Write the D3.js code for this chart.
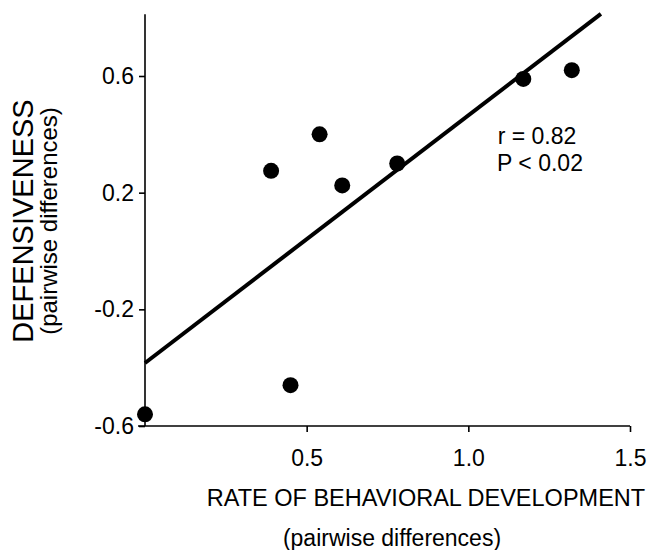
<!DOCTYPE html>
<html>
<head>
<meta charset="utf-8">
<script src="https://cdn.jsdelivr.net/npm/d3@7"></script>
<style>
  body { margin: 0; background: #fff; }
  svg text { font-family: "Liberation Sans", Arial, Helvetica, sans-serif; fill: #000; }
</style>
</head>
<body>
<svg id="chart" width="654" height="550"></svg>
<script>
// data
var rateDiff = [0.0, 0.45, 0.39, 0.54, 0.61, 0.78, 1.17, 1.32];
var defDiff = [-0.56, -0.46, 0.275, 0.40, 0.225, 0.30, 0.59, 0.62];
var xTicks = [0.5, 1.0, 1.5];
var xTickLabels = ["0.5", "1.0", "1.5"];
var yTicks = [-0.6, -0.2, 0.2, 0.6];
var yTickLabels = ["-0.6", "-0.2", "0.2", "0.6"];
// regression line (intercept, slope) and its x range
var fitIntercept = -0.384;
var fitSlope = 0.849;
var fitRange = [0, 1.41];

var svg = d3.select("#chart");

var x = d3.scaleLinear().domain([0, 1.5]).range([145, 630]);
var y = d3.scaleLinear().domain([-0.6, 0.6]).range([426, 76]);

// axis lines
svg.append("line")
    .attr("x1", x(0)).attr("x2", x(0))
    .attr("y1", y(-0.6)).attr("y2", y(0.812))
    .attr("stroke", "#000").attr("stroke-width", 1.6);
svg.append("line")
    .attr("x1", x(0) - 7).attr("x2", x(1.5))
    .attr("y1", y(-0.6)).attr("y2", y(-0.6))
    .attr("stroke", "#000").attr("stroke-width", 1.6);

// x axis ticks
var xAxis = d3.axisBottom(x)
    .tickValues(xTicks)
    .tickSize(6)
    .tickSizeOuter(0)
    .tickPadding(18)
    .tickFormat((d, i) => xTickLabels[i]);

var gx = svg.append("g")
    .attr("transform", "translate(0," + y(-0.6) + ")")
    .call(xAxis);
gx.select(".domain").remove();
gx.selectAll(".tick line").attr("stroke", "#000").attr("stroke-width", 1.6);
gx.selectAll(".tick text").style("font-size", "23px");

// y axis ticks
var yAxis = d3.axisLeft(y)
    .tickValues(yTicks)
    .tickSize(6)
    .tickSizeOuter(0)
    .tickPadding(5)
    .tickFormat((d, i) => yTickLabels[i]);

var gy = svg.append("g")
    .attr("transform", "translate(" + x(0) + ",0)")
    .call(yAxis);
gy.select(".domain").remove();
gy.selectAll(".tick line").attr("stroke", "#000").attr("stroke-width", 1.6);
gy.selectAll(".tick text").style("font-size", "23px");

// regression line
svg.append("line")
    .attr("x1", x(fitRange[0])).attr("y1", y(fitIntercept + fitSlope * fitRange[0]))
    .attr("x2", x(fitRange[1])).attr("y2", y(fitIntercept + fitSlope * fitRange[1]))
    .attr("stroke", "#000").attr("stroke-width", 4);

// points
svg.selectAll(".dot")
    .data(rateDiff)
    .enter().append("circle")
    .attr("class", "dot")
    .attr("cx", d => x(d))
    .attr("cy", (d, i) => y(defDiff[i]))
    .attr("r", 8)
    .attr("fill", "#000");

// stats
svg.append("text")
    .attr("x", 537).attr("y", 144)
    .attr("text-anchor", "middle")
    .style("font-size", "23px")
    .text("r = 0.82");
svg.append("text")
    .attr("x", 540).attr("y", 171)
    .attr("text-anchor", "middle")
    .style("font-size", "23px")
    .text("P < 0.02");

// axis titles
svg.append("text")
    .attr("x", 426).attr("y", 506)
    .attr("text-anchor", "middle")
    .style("font-size", "23.5px")
    .text("RATE OF BEHAVIORAL DEVELOPMENT");
svg.append("text")
    .attr("x", 392).attr("y", 546)
    .attr("text-anchor", "middle")
    .style("font-size", "23px")
    .text("(pairwise differences)");

svg.append("text")
    .attr("transform", "translate(33,221) rotate(-90)")
    .attr("text-anchor", "middle")
    .style("font-size", "29px")
    .text("DEFENSIVENESS");
svg.append("text")
    .attr("transform", "translate(57,221) rotate(-90)")
    .attr("text-anchor", "middle")
    .style("font-size", "24px")
    .text("(pairwise differences)");
</script>
</body>
</html>
